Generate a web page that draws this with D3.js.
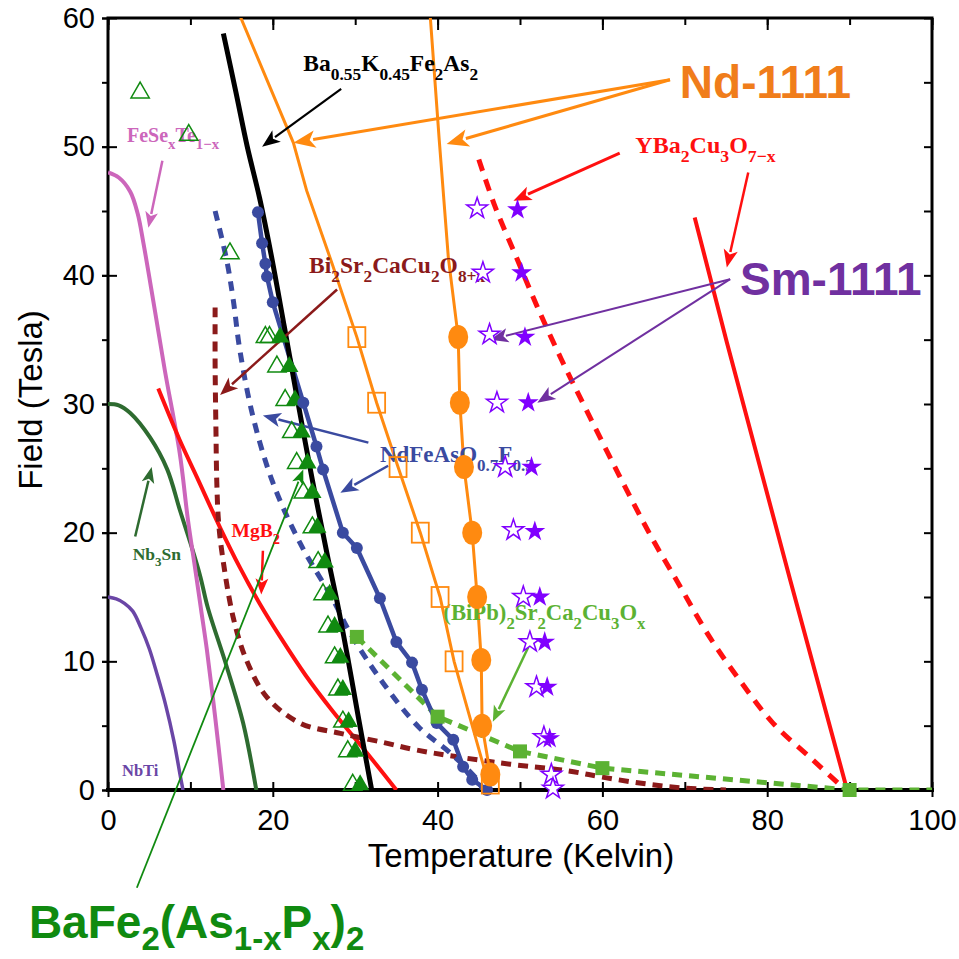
<!DOCTYPE html>
<html>
<head>
  <meta http-equiv="Content-Type" content="text/html; charset=UTF-8">
  <script src="https://d3js.org/d3.v7.min.js"></script>
  <style>
    body { margin:0; background:#fff; }
  </style>
</head>
<body>
<svg id="chart" width="959" height="959"></svg>
<script>
// ---- data: [temperature K, field T] ----
var nbTi    = [[0,15],[1,14.85],[2,14.5],[3,13.9],[4,12.6],[5,11],[6,8.9],[7,6.6],[8,3.8],[8.8,1],[9.1,0]];
var nb3Sn   = [[0,30],[1.3,29.9],[2.7,29.3],[5.1,27.4],[7.2,24.9],[8.7,21.8],[10,19.2],[11.2,16.6],[12.1,14.2],[14.4,9.6],[16.4,5.2],[18,0]];
var feSeTe  = [[0,48],[1.3,47.6],[2.7,46.5],[3.6,44.8],[4.3,42.5],[5.5,38],[6.9,32.6],[8.7,26.2],[9.7,21],[10.6,17.1],[11.3,14],[12,10.9],[13,5.7],[14,0]];
var mgB2    = [[6.1,31.2],[8.7,27.2],[10.8,24.3],[13.6,20.4],[16,17.3],[18.4,14.5],[21,11.8],[24,8.9],[27.3,6.1],[31.4,2.9],[35,0]];
var bi2212  = [[13,37.5],[13,33],[13.1,28],[13.2,24],[13.4,21],[13.8,18.6],[15.2,13.4],[16.8,10.1],[19.3,7.2],[23.3,5.2],[28.2,4.4],[33.4,3.7],[37.5,3.1],[47.6,2.1],[55.7,1.5],[60,1],[65,0.5],[70,0.15],[75,0]];
var ndDash  = [[13,45],[14.4,41.2],[15.2,38.1],[16,34.2],[17.6,29],[20,23.9],[23.3,19.2],[27.3,14.8],[29.4,12.2],[33.4,8.3],[37.7,4.9],[41.5,2.9],[44.8,0.8],[45.5,0]];
var ndDots  = [[18.2,44.9],[18.7,42.5],[19.1,40.9],[19.3,39.9],[20,37.9],[23.7,30.1],[25.3,26.7],[26.1,24.9],[28.5,20],[30.2,18.8],[33,14.9],[35,11.5],[36.9,9.9],[38.1,7.8],[39.9,5.2],[41.9,3.9],[43.1,1.8],[44.2,0.8],[46,0]];
var ba122   = [[14,58.8],[15.5,54.3],[16.9,50],[18.4,46],[19.8,41.6],[21.4,36],[23,30.3],[24.8,24.1],[26.6,18.3],[28,14],[29.2,9.9],[30.4,5.6],[32,0]];
var pFilled = [[20.9,35.2],[22,32.9],[22.7,30.3],[23.5,27.8],[24.2,25.4],[24.8,23.1],[25.4,20.4],[26.3,17.7],[26.9,15.2],[27.5,12.7],[28.2,10.3],[28.5,7.8],[29.2,5.3],[30,3],[30.6,0.4]];
var pOpen   = [[3.9,54.2],[9.8,50.9],[14.8,41.7],[19.1,35.2],[19.6,35.2],[20.5,32.9],[21.5,30.3],[22.3,27.8],[22.9,25.4],[23.7,23.1],[24.8,20.4],[25.5,17.7],[26.1,15.2],[26.7,12.7],[27.5,10.3],[27.9,7.8],[28.5,5.3],[29.1,3],[29.7,0.4]];
var ndSqLine = [[16,60.2],[22.5,50.3],[24.1,46.6],[27.2,40.9],[30.2,35.2],[32.6,30.1],[35.2,25.1],[37.9,20],[40.3,15],[42,10],[44.2,5],[46.4,0]];
var ndSquares = [[30.2,35.2],[32.6,30.1],[35.2,25.1],[37.9,20],[40.3,15],[42,10],[46.4,0.5]];
var ndCirLine = [[39.1,60.2],[40.2,50.5],[41.3,41.4],[42.5,35.2],[42.7,30.1],[43.2,25.1],[44.2,20],[44.8,15],[45.3,10.1],[45.4,5],[46.4,1.2]];
var ndCircles = [[42.5,35.2],[42.7,30.1],[43.2,25.1],[44.2,20],[44.8,15],[45.3,10.1],[45.4,5],[46.4,1.2]];
var smOpen  = [[44.8,45.2],[45.5,40.2],[46.3,35.4],[47.2,30.1],[48.2,25.1],[49.2,20.2],[50.4,15],[51.2,11.5],[52,8],[52.9,4.1],[53.8,1.2],[54,0.1]];
var smFilled = [[49.7,45.1],[50.2,40.2],[50.6,35.2],[51,30.1],[51.4,25.1],[51.8,20.1],[52.4,15],[53,11.5],[53.3,8],[53.6,4]];
var bipbSquares = [[30.2,11.9],[40,5.7],[50,3],[60,1.7],[90,0]];
var bipbLine = [[30.2,11.9],[40,5.7],[50,3],[60,1.7],[90,0],[100,0]];
var ybcoDash = [[45,49],[47,45.3],[49.5,41.5],[52,37.7],[55,33.5],[58,29.6],[62,24.5],[66,19.6],[69,16.3],[73,11.9],[76.7,8.5],[80.7,5.2],[85.6,2.3],[89.5,0]];
var ybcoSolid = [[71.2,44.5],[75.1,34.8],[82.8,16.3],[89.7,0]];

var xMajor = [0,20,40,60,80,100];
var yMajor = [0,10,20,30,40,50,60];

var orange = '#ff8a10', blue = '#3a4aa0', red = '#ff1010', darkred = '#8b1a1a',
    pink = '#cc66bb', nbGreen = '#2e6b30', purple = '#6a46a6', green = '#108a10',
    bipb = '#5cb233', star = '#8000ff', smCol = '#7030a0';

var svg = d3.select('#chart');
var x = d3.scaleLinear().domain([0,100]).range([108,932]);
var y = d3.scaleLinear().domain([0,60]).range([790,18]);

svg.append('clipPath').attr('id','plot').append('rect')
  .attr('x',108).attr('y',18).attr('width',824).attr('height',772);

// ---- axes ----
function styleAxis(g) {
  g.select('.domain').remove();
  g.selectAll('line').attr('stroke','#000').attr('stroke-width',2);
  g.selectAll('text').attr('font-family','Liberation Sans, Arial, sans-serif')
    .attr('font-size',29).attr('fill','#000');
}
svg.append('g').attr('transform','translate(0,790)')
  .call(d3.axisBottom(x).tickValues(xMajor).tickSize(7).tickPadding(12)).call(styleAxis);
svg.append('g').attr('transform','translate(0,790)')
  .call(d3.axisBottom(x).tickValues(d3.range(0,101,10)).tickSize(-8).tickFormat('')).call(styleAxis);
svg.append('g').attr('transform','translate(0,18)')
  .call(d3.axisTop(x).tickValues(d3.range(0,101,10)).tickSize(-7).tickFormat('')).call(styleAxis);
svg.append('g').attr('transform','translate(0,18)')
  .call(d3.axisTop(x).tickValues(xMajor).tickSize(-12).tickFormat('')).call(styleAxis);
svg.append('g').attr('transform','translate(108,0)')
  .call(d3.axisLeft(y).tickValues(yMajor).tickSize(6).tickPadding(7)).call(styleAxis);
svg.append('g').attr('transform','translate(108,0)')
  .call(d3.axisLeft(y).tickValues(d3.range(0,61,5)).tickSize(6).tickFormat('')).call(styleAxis);
svg.append('g').attr('transform','translate(108,0)')
  .call(d3.axisLeft(y).tickValues(yMajor).tickSize(-9).tickFormat('')).call(styleAxis);
svg.append('g').attr('transform','translate(932,0)')
  .call(d3.axisRight(y).tickValues(d3.range(0,61,5)).tickSize(-8).tickFormat('')).call(styleAxis);

svg.append('rect').attr('x',108).attr('y',18).attr('width',824).attr('height',772)
  .attr('fill','none').attr('stroke','#000').attr('stroke-width',3);
svg.append('line').attr('x1',106).attr('x2',934).attr('y1',790).attr('y2',790)
  .attr('stroke','#000').attr('stroke-width',4);

svg.append('text').attr('x',521).attr('y',867).attr('text-anchor','middle')
  .attr('font-family','Liberation Sans, Arial, sans-serif').attr('font-size',33)
  .text('Temperature (Kelvin)');
svg.append('text').attr('transform','translate(42,400) rotate(-90)').attr('text-anchor','middle')
  .attr('font-family','Liberation Sans, Arial, sans-serif').attr('font-size',33)
  .text('Field (Tesla)');

// ---- curves ----
var smooth = d3.line().x(function(d){return x(d[0]);}).y(function(d){return y(d[1]);})
  .curve(d3.curveCatmullRom.alpha(0.5));
var straight = d3.line().x(function(d){return x(d[0]);}).y(function(d){return y(d[1]);});

var plot = svg.append('g').attr('clip-path','url(#plot)');
function curve(data, gen, color, w, dash) {
  plot.append('path').attr('d', gen(data)).attr('fill','none')
    .attr('stroke', color).attr('stroke-width', w)
    .attr('stroke-dasharray', dash || null);
}
curve(nbTi, smooth, purple, 3.5);
curve(nb3Sn, smooth, nbGreen, 4);
curve(feSeTe, smooth, pink, 4);
curve(mgB2, smooth, red, 4);
curve(bi2212, smooth, darkred, 5, '10,7');
curve(ndDash, smooth, blue, 5, '10,8');
curve(ybcoDash, smooth, red, 5, '12,9');
curve(ybcoSolid, straight, red, 4);
curve(bipbLine, straight, bipb, 5, '10,7');
curve(ndDots, straight, blue, 4.5);
curve(ba122, smooth, '#000', 5);
curve(ndSqLine, straight, orange, 3);
curve(ndCirLine, straight, orange, 3);

// ---- arrows ----
function arrow(a, b, color, w, head) {
  var x1 = x(a[0]), y1 = y(a[1]), x2 = x(b[0]), y2 = y(b[1]);
  var dx = x2 - x1, dy = y2 - y1, L = Math.sqrt(dx*dx + dy*dy);
  var ux = dx / L, uy = dy / L, hw = head * 0.4;
  var bx = x2 - ux * head, by = y2 - uy * head;
  svg.append('line').attr('x1',x1).attr('y1',y1).attr('x2',bx + ux*2).attr('y2',by + uy*2)
    .attr('stroke',color).attr('stroke-width',w);
  svg.append('path').attr('fill',color)
    .attr('d','M'+x2+','+y2+'L'+(bx - uy*hw)+','+(by + ux*hw)+'L'+(bx + ux*head*0.25)+','+(by + uy*head*0.25)
      +'L'+(bx + uy*hw)+','+(by - ux*hw)+'Z');
}
arrow([28.3,54.5],[18.7,50.0],'#000',2.2,18);
arrow([68.2,55.2],[22.5,50.3],orange,3,22);
arrow([68.2,55.2],[41.1,50.2],orange,3,22);
arrow([6.6,48.9],[4.9,43.7],pink,2.5,16);
arrow([27.8,38.9],[13.6,30.7],darkred,2.5,18);
arrow([62.1,49.5],[49.2,45.8],red,3,18);
arrow([77.7,48],[75.1,40.6],red,2.5,18);
arrow([75.5,39.7],[46.4,35],smCol,2,18);
arrow([75.5,39.7],[52.1,30.1],smCol,2,18);
arrow([31.6,27],[18.8,29.1],blue,2.5,18);
arrow([34,25.2],[28.2,23.1],blue,2.5,18);
arrow([18.8,18.6],[18.6,15.2],red,2.5,16);
arrow([3.3,19.7],[5.3,25.1],nbGreen,2.5,16);
arrow([51,11.1],[46.7,5.3],bipb,2.5,16);
arrow([3.5,-7.6],[23.7,24.9],green,1.8,15);

// ---- labels ----
function rich(T, B, str, size, color, opts) {
  opts = opts || {};
  var sub = opts.sub || size * 0.74, drop = opts.drop || size * 0.38;
  var t = svg.append('text').attr('x', x(T)).attr('y', y(B)).attr('fill', color)
    .attr('font-family', opts.family || 'Liberation Serif, Times New Roman, serif')
    .attr('font-weight', 'bold').attr('font-size', size);
  var cur = 0;
  str.split(/(\{[^}]*\})/).filter(function(s){return s;}).forEach(function(s) {
    var isSub = s[0] === '{', shift = isSub ? drop : 0;
    t.append('tspan').attr('dy', shift - cur).attr('font-size', isSub ? sub : size)
      .text(isSub ? s.slice(1, -1) : s);
    cur = shift;
  });
}
rich(23.7,55.9,'Ba{0.55}K{0.45}Fe{2}As{2}',23.5,'#000');
rich(2.3,50.4,'FeSe{x}Te{1\u2212x}',20,pink);
rich(24.4,40.2,'Bi{2}Sr{2}CaCu{2}O{8+x}',23.5,darkred);
rich(33,25.5,'NdFeAsO{0.7}F{0.3}',23,blue);
rich(15,19.7,'MgB{2}',19.5,red);
rich(3,17.9,'Nb{3}Sn',17.5,nbGreen);
rich(1.7,1.1,'NbTi',16.5,purple);
rich(64,49.5,'YBa{2}Cu{3}O{7\u2212x}',24,red);
rich(40.7,13.2,'(BiPb){2}Sr{2}Ca{2}Cu{3}O{x}',22.7,bipb);
rich(69.4,53.8,'Nd-1111',46,'#f07d1b',{family:'Liberation Sans, Arial, sans-serif'});
rich(76.7,38.5,'Sm-1111',46,smCol,{family:'Liberation Sans, Arial, sans-serif'});
rich(-9.6,-11.5,'BaFe{2}(As{1-x}P{x}){2}',46,green,{family:'Liberation Sans, Arial, sans-serif',sub:33,drop:12});

// ---- markers ----
var tri = d3.symbol().type(d3.symbolTriangle).size(145);
var st = d3.symbol().type(d3.symbolStar).size(135);
function marks(data, gen, fill, stroke, sw) {
  svg.append('g').selectAll('path').data(data).enter().append('path')
    .attr('transform', function(d){ return 'translate(' + x(d[0]) + ',' + y(d[1]) + ')'; })
    .attr('d', gen).attr('fill', fill).attr('stroke', stroke).attr('stroke-width', sw);
}
marks(pOpen, tri, 'none', green, 1.5);
marks(pFilled, tri, green, 'none', 0);
svg.append('g').selectAll('circle').data(ndDots).enter().append('circle')
  .attr('cx', function(d){return x(d[0]);}).attr('cy', function(d){return y(d[1]);})
  .attr('r', 6).attr('fill', blue);
svg.append('g').selectAll('rect').data(ndSquares).enter().append('rect')
  .attr('x', function(d){return x(d[0]) - 8.5;}).attr('y', function(d){return y(d[1]) - 10;})
  .attr('width', 17).attr('height', 20).attr('fill','none').attr('stroke',orange).attr('stroke-width',1.8);
svg.append('g').selectAll('ellipse').data(ndCircles).enter().append('ellipse')
  .attr('cx', function(d){return x(d[0]);}).attr('cy', function(d){return y(d[1]);})
  .attr('rx', 10).attr('ry', 12).attr('fill', orange);
svg.append('g').selectAll('rect').data(bipbSquares).enter().append('rect')
  .attr('x', function(d){return x(d[0]) - 7;}).attr('y', function(d){return y(d[1]) - 7;})
  .attr('width', 14).attr('height', 14).attr('fill', bipb);
marks(smOpen, st, '#fff', star, 1.5);
marks(smFilled, st, star, 'none', 0);
</script>
</body>
</html>
